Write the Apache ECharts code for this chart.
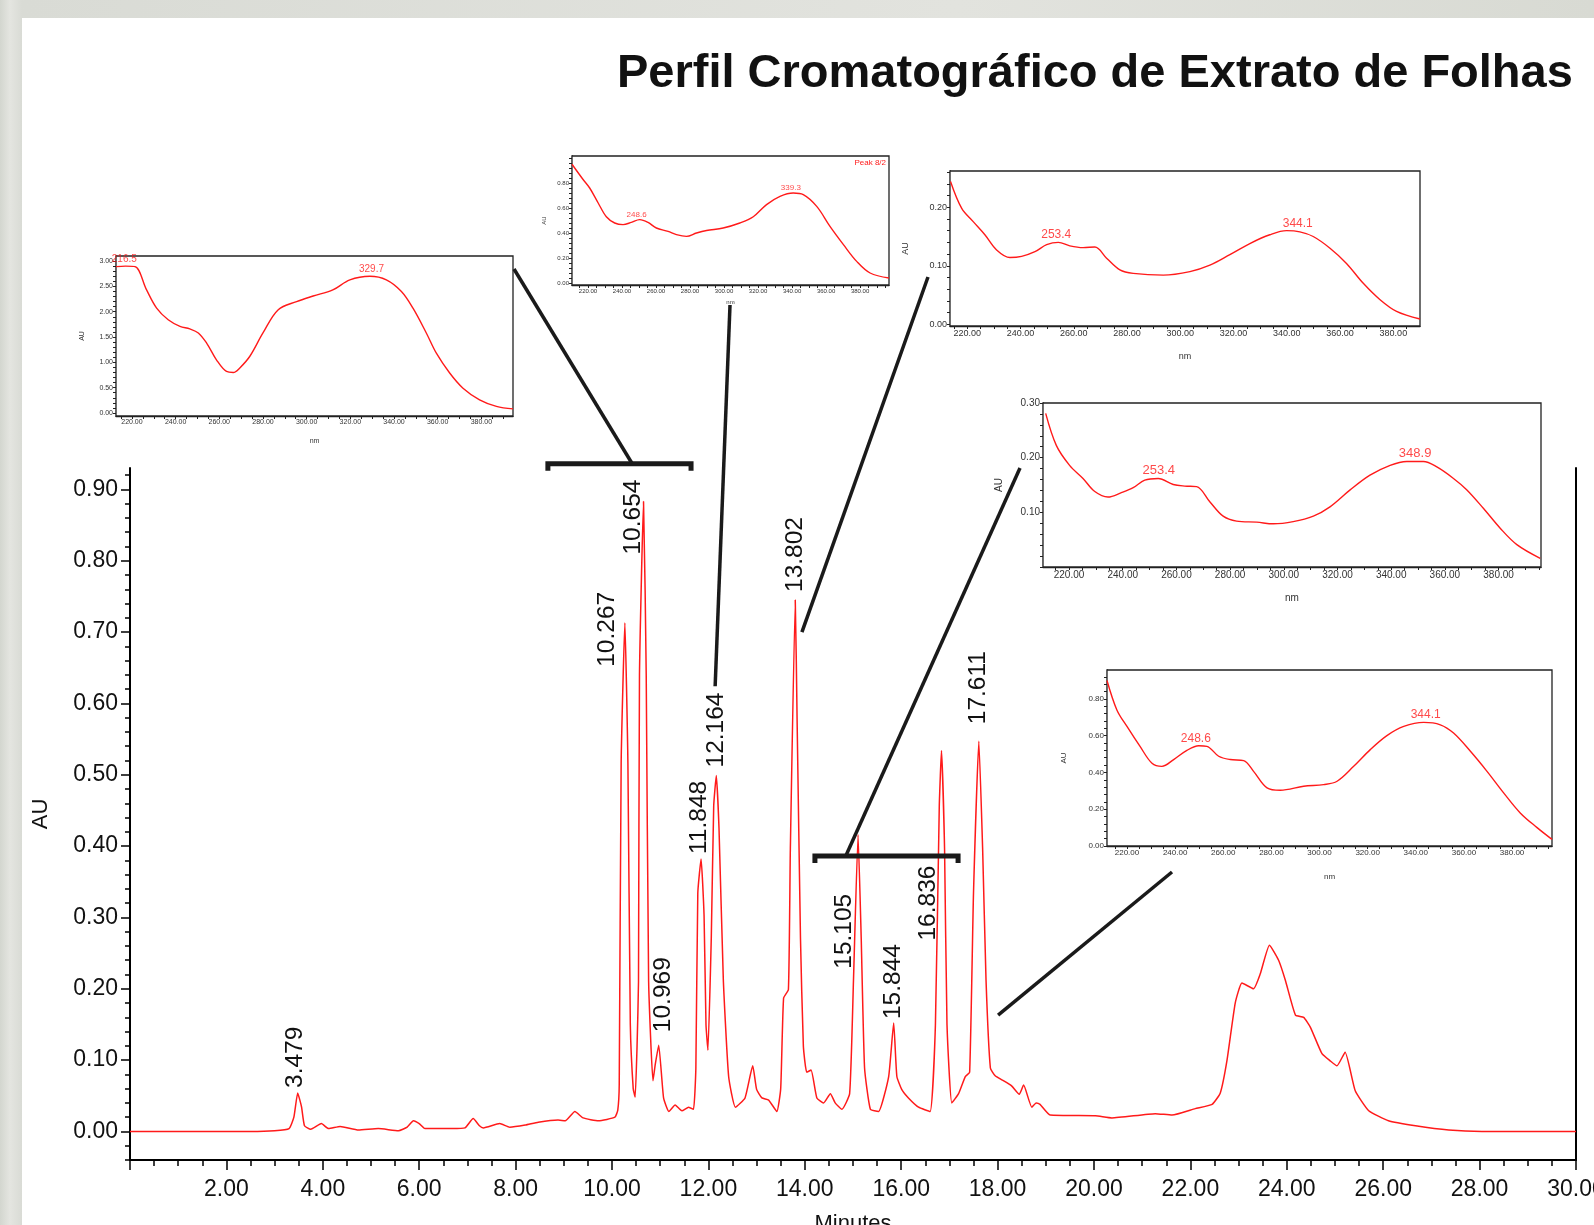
<!DOCTYPE html>
<html><head><meta charset="utf-8">
<script src="https://cdn.jsdelivr.net/npm/echarts/dist/echarts.min.js"></script>
<style>
html,body{margin:0;padding:0;}
body{width:1594px;height:1225px;overflow:hidden;position:relative;background:linear-gradient(90deg,#d3d6cf 0px,#e4e5e0 10px,#d9dbd5 22px,#e2e3de 60%,#d8dad3 100%);}
#card{position:absolute;left:22px;top:18px;right:0;bottom:0;background:#fff;}
#chart{position:absolute;left:0;top:0;width:1594px;height:1225px;}
</style>
</head><body>
<div id="card"></div>
<div id="chart"></div>
<script>
// ---------------- DATA ----------------
const chromTime = [0,2.5,3.0,3.3,3.4,3.479,3.52,3.56,3.62,3.75,3.97,4.12,4.36,4.74,5.15,5.57,5.75,5.88,6.0,6.12,6.68,6.95,7.12,7.25,7.33,7.67,7.88,8.2,8.47,8.88,9.03,9.23,9.4,9.72,10.06,10.12,10.15,10.19,10.267,10.33,10.38,10.44,10.48,10.52,10.55,10.57,10.654,10.71,10.76,10.85,10.9,10.969,11.07,11.18,11.31,11.45,11.59,11.69,11.74,11.78,11.848,11.91,11.95,11.99,12.06,12.11,12.164,12.22,12.31,12.42,12.56,12.76,12.92,13.0,13.11,13.25,13.42,13.5,13.56,13.66,13.7,13.802,13.84,13.91,13.97,14.04,14.13,14.25,14.39,14.53,14.63,14.77,14.93,15.01,15.105,15.17,15.24,15.36,15.53,15.74,15.844,15.91,16.01,16.15,16.36,16.6,16.71,16.79,16.836,16.9,16.95,17.05,17.19,17.33,17.42,17.5,17.611,17.69,17.76,17.85,17.95,18.1,18.29,18.45,18.54,18.71,18.8,18.88,19.09,20.03,20.37,21.27,21.62,22.1,22.45,22.62,22.76,22.93,23.07,23.31,23.45,23.64,23.83,23.97,24.18,24.35,24.49,24.73,24.9,25.04,25.21,25.42,25.7,26.11,26.67,27.36,28.05,30];
const chromAU = [0,0,0.001,0.004,0.02,0.054,0.045,0.034,0.008,0.003,0.011,0.004,0.007,0.002,0.004,0.001,0.006,0.015,0.011,0.004,0.004,0.005,0.018,0.008,0.005,0.011,0.006,0.009,0.013,0.016,0.015,0.028,0.019,0.015,0.02,0.03,0.065,0.517,0.713,0.517,0.15,0.06,0.048,0.12,0.21,0.64,0.883,0.64,0.21,0.071,0.095,0.121,0.047,0.028,0.037,0.029,0.034,0.031,0.089,0.334,0.382,0.303,0.15,0.114,0.272,0.456,0.499,0.425,0.212,0.077,0.034,0.047,0.092,0.059,0.047,0.044,0.028,0.06,0.187,0.199,0.395,0.745,0.578,0.272,0.12,0.083,0.086,0.047,0.04,0.053,0.04,0.031,0.053,0.212,0.416,0.272,0.089,0.031,0.028,0.077,0.152,0.077,0.059,0.047,0.034,0.028,0.15,0.456,0.534,0.395,0.15,0.04,0.053,0.077,0.083,0.334,0.547,0.395,0.212,0.089,0.078,0.072,0.064,0.052,0.065,0.034,0.04,0.038,0.023,0.022,0.019,0.025,0.023,0.032,0.038,0.054,0.1,0.18,0.208,0.2,0.221,0.261,0.24,0.212,0.163,0.16,0.146,0.109,0.099,0.092,0.111,0.057,0.029,0.015,0.008,0.002,0,0];

const peakRT = [3.479,10.267,10.654,10.969,11.848,12.164,13.802,15.105,15.844,16.836,17.611];

const xTickLabelsMain = [2,4,6,8,10,12,14,16,18,20,22,24,26,28,30];
const yTickLabelsMain = [0,0.1,0.2,0.3,0.4,0.5,0.6,0.7,0.8,0.9];

const spec1Nm = [212.7,217,221.4,226.7,231.3,236.6,242,246.5,250.4,254.2,258.7,263.3,266.4,269.4,274,280,287,295.4,303,312,319.8,329,336.5,343.4,348.7,354.8,359.4,365.5,371.6,379.2,386.9,394.5];
const spec1AU = [2.89,2.9,2.89,2.43,2.07,1.84,1.71,1.66,1.58,1.38,1.05,0.82,0.80,0.89,1.12,1.58,2.04,2.20,2.31,2.43,2.63,2.70,2.63,2.40,2.07,1.58,1.18,0.79,0.49,0.26,0.13,0.08];
const spec2Nm = [210.6,217,221,226,230.8,235.7,240.6,245.5,250.4,255.3,260.2,267.1,272,277.9,283.8,289.7,299.5,309.3,317.2,325,332.9,340.7,346.6,354.5,362.3,370.2,378,385.9,397];
const spec2AU = [0.95,0.83,0.76,0.64,0.53,0.48,0.467,0.485,0.507,0.485,0.44,0.413,0.387,0.373,0.40,0.42,0.44,0.48,0.53,0.627,0.693,0.72,0.707,0.613,0.453,0.307,0.173,0.08,0.04];
const spec3Nm = [213.7,217.9,222.3,226.6,231,236,240.4,245.4,249.8,254.2,258.5,263.5,267.9,272.3,277.3,282.3,293.6,303.6,311.1,318.6,326.1,333.6,339.9,344.9,349.9,356.2,362.4,368.7,375,381.2,390];
const spec3AU = [0.244,0.198,0.175,0.153,0.127,0.114,0.116,0.124,0.136,0.140,0.134,0.131,0.132,0.113,0.093,0.087,0.084,0.090,0.101,0.119,0.138,0.153,0.160,0.158,0.150,0.130,0.104,0.070,0.042,0.022,0.009];
const spec4Nm = [211.3,215.3,220.2,225.2,229.6,234.5,239.5,243.9,248.2,253.2,258.8,263.1,267.5,272.5,277.4,282.4,289.9,296.1,303.5,311,317.2,324.7,332.1,339.6,345.8,352,357,363.2,368.2,374.4,380.6,386.8,395.5];
const spec4AU = [0.281,0.222,0.186,0.162,0.138,0.128,0.136,0.145,0.159,0.162,0.151,0.148,0.147,0.119,0.093,0.084,0.082,0.079,0.083,0.093,0.110,0.141,0.168,0.186,0.193,0.193,0.183,0.162,0.141,0.107,0.071,0.041,0.016];
const spec5Nm = [211.7,215.8,220,225.5,230.4,234.5,239.4,244.9,249.8,253.2,258.1,262.9,268.5,272.6,278.2,283.7,293.4,301.7,307.3,314.2,321.1,328,335,343.3,350.2,355.7,362.7,369.6,376.5,383.4,390.4,396.6];
const spec5AU = [0.90,0.74,0.65,0.54,0.45,0.433,0.47,0.52,0.545,0.542,0.488,0.47,0.464,0.406,0.316,0.303,0.325,0.334,0.352,0.433,0.524,0.60,0.65,0.672,0.659,0.614,0.515,0.406,0.289,0.18,0.10,0.036];

const spec1Peaks = [216.5,329.7];
const spec2Peaks = [248.6,339.3];
const spec3Peaks = [253.4,344.1];
const spec4Peaks = [253.4,348.9];
const spec5Peaks = [248.6,344.1];

const nmTickLabels = [220,240,260,280,300,320,340,360,380];
const spec1YLabels = [0,0.5,1,1.5,2,2.5,3];
const spec2YLabels = [0,0.2,0.4,0.6,0.8];
const spec3YLabels = [0,0.1,0.2];
const spec4YLabels = [0.1,0.2,0.3];
const spec5YLabels = [0,0.2,0.4,0.6,0.8];

// ---------------- LAYOUT / STYLE ----------------
const FONT = '"Liberation Sans", Arial, Helvetica, sans-serif';
const RED = '#ff1a1a';
const INK = '#111';
function steps(a,b,s){const r=[];for(let i=0;a+i*s<=b+1e-9;i++) r.push(+(a+i*s).toFixed(5));return r;}
function zip(a,b){return a.map((v,i)=>[v,b[i]]);}
function interp(xs,ys,x){for(let i=1;i<xs.length;i++){if(x<=xs[i]){const f=(x-xs[i-1])/(xs[i]-xs[i-1]);return ys[i-1]+f*(ys[i]-ys[i-1]);}}return ys[ys.length-1];}

const insets = [
 {nm:spec1Nm, au:spec1AU, peaks:spec1Peaks, yLabels:spec1YLabels, left:116, top:256, width:397, height:160, xMin:212.7, xMax:394.5, yMin:-0.06, yMax:3.1, yTick:0.1, yTickMax:3.0, font:7, pfont:10, gapX:22, gapY:30},
 {nm:spec2Nm, au:spec2AU, peaks:spec2Peaks, yLabels:spec2YLabels, left:572, top:156, width:317, height:129, xMin:210.6, xMax:397, yMin:-0.016, yMax:1.016, yTick:0.04, yTickMax:1.0, font:6, pfont:8, gapX:14, gapY:25},
 {nm:spec3Nm, au:spec3AU, peaks:spec3Peaks, yLabels:spec3YLabels, left:950, top:171, width:470, height:155, xMin:213.5, xMax:390, yMin:-0.003, yMax:0.262, yTick:0.02, yTickMax:0.26, font:9, pfont:12, gapX:26, gapY:40},
 {nm:spec4Nm, au:spec4AU, peaks:spec4Peaks, yLabels:spec4YLabels, left:1043, top:403, width:498, height:164, xMin:210.3, xMax:395.8, yMin:0, yMax:0.30, yTick:0.02, yTickMax:0.30, font:10, pfont:13, gapX:26, gapY:39},
 {nm:spec5Nm, au:spec5AU, peaks:spec5Peaks, yLabels:spec5YLabels, left:1107, top:670, width:445, height:176, xMin:211.7, xMax:396.6, yMin:0, yMax:0.957, yTick:0.04, yTickMax:0.92, font:8, pfont:12, gapX:27, gapY:39}
];

const peakLabelOffset = [[-2,-5],[-18,44],[-10,53],[5,-13],[-2,-5],[0,-8],[0,-8],[-14,134],[0,-4],[-13,190],[-1,-17]];
const connectors = [
 {from:[514,269], to:[10.42,0.936]},
 {from:[730,305], to:[12.14,0.624]},
 {from:[928,277], to:[13.94,0.70]},
 {from:[1020,468], to:[14.85,0.386]},
 {from:[1172,872], to:[18.01,0.163]}
];
const brackets = [{t0:8.67,t1:11.64,v:0.936},{t0:14.21,t1:17.18,v:0.386}];

// ---------------- OPTION ----------------
const grids = [{left:130, top:468, right:18, bottom:65, show:false, containLabel:false, outerBoundsMode:'none'}];
const xAxes = [{
  type:'value', gridIndex:0, min:0, max:30, interval:2,
  axisLine:{show:true, onZero:false, lineStyle:{color:'#000', width:2}},
  axisTick:{show:true, length:10, lineStyle:{color:'#000', width:1.5}},
  minorTick:{show:true, splitNumber:4, length:6, lineStyle:{color:'#000', width:1.5}},
  splitLine:{show:false},
  axisLabel:{customValues:xTickLabelsMain, formatter:v=>v.toFixed(2), fontSize:23, color:INK, fontFamily:FONT, margin:18, hideOverlap:false},
  name:'Minutes', nameLocation:'middle', nameGap:53, nameTextStyle:{fontSize:22, color:INK, fontFamily:FONT}
}];
const yAxes = [
 {type:'value', gridIndex:0, min:-0.04, max:0.93, position:'left',
  axisLine:{show:true, onZero:false, lineStyle:{color:'#000', width:2}},
  axisTick:{show:true, customValues:yTickLabelsMain, length:9, lineStyle:{color:'#000', width:1.5}},
  splitLine:{show:false},
  axisLabel:{customValues:yTickLabelsMain, formatter:v=>v.toFixed(2), fontSize:23, color:INK, fontFamily:FONT, margin:12},
  name:'AU', nameLocation:'middle', nameGap:78, nameTextStyle:{fontSize:22, color:INK, fontFamily:FONT}},
 {type:'value', gridIndex:0, min:-0.04, max:0.93, position:'left',
  axisLine:{show:false}, axisLabel:{show:false}, splitLine:{show:false},
  axisTick:{show:true, customValues:steps(-0.04,0.92,0.02), length:5, lineStyle:{color:'#000', width:1.5}}},
 {type:'value', gridIndex:0, min:-0.04, max:0.93, position:'right',
  axisLine:{show:true, onZero:false, lineStyle:{color:'#000', width:2}},
  axisTick:{show:false}, axisLabel:{show:false}, splitLine:{show:false}}
];
const series = [{
  type:'line', xAxisIndex:0, yAxisIndex:0, data:zip(chromTime, chromAU),
  showSymbol:false, symbol:'none', smooth:0.15, lineStyle:{color:RED, width:1.5}, z:3
}];

insets.forEach((s,i)=>{
  const gi = i+1;
  grids.push({left:s.left, top:s.top, width:s.width, height:s.height, show:true, borderColor:'#222', borderWidth:1.3, backgroundColor:'#fff', z:1, containLabel:false, outerBoundsMode:'none'});
  xAxes.push({type:'value', gridIndex:gi, min:s.xMin, max:s.xMax,
    axisLine:{show:true, onZero:false, lineStyle:{color:'#222', width:1.3}},
    axisTick:{show:true, customValues:steps(215,395,5).filter(v=>v>s.xMin&&v<s.xMax), length:3, lineStyle:{color:'#222', width:1}},
    splitLine:{show:false},
    axisLabel:{customValues:nmTickLabels, formatter:v=>v.toFixed(2), fontSize:s.font, color:'#333', fontFamily:FONT, margin:3},
    name:'nm', nameLocation:'middle', nameGap:s.gapX, nameTextStyle:{fontSize:s.font, color:'#333', fontFamily:FONT}});
  yAxes.push({type:'value', gridIndex:gi, min:s.yMin, max:s.yMax, position:'left',
    axisLine:{show:true, onZero:false, lineStyle:{color:'#222', width:1.3}},
    axisTick:{show:true, customValues:steps(0,s.yTickMax,s.yTick), length:3, lineStyle:{color:'#222', width:1}},
    splitLine:{show:false},
    axisLabel:{customValues:s.yLabels, formatter:v=>v.toFixed(2), fontSize:s.font, color:'#333', fontFamily:FONT, margin:3},
    name:'AU', nameLocation:'middle', nameGap:s.gapY, nameTextStyle:{fontSize:s.font, color:'#333', fontFamily:FONT}});
  series.push({type:'line', xAxisIndex:gi, yAxisIndex:gi+2, data:zip(s.nm, s.au), showSymbol:false, symbol:'none', smooth:0.35, lineStyle:{color:RED, width:1.4}, z:3});
  series.push({type:'scatter', xAxisIndex:gi, yAxisIndex:gi+2, symbolSize:0.1, itemStyle:{color:'transparent'}, z:4,
    data:s.peaks.map(p=>[p, interp(s.nm, s.au, p)]),
    label:{show:true, position:'top', distance:2, formatter:p=>p.value[0].toFixed(1), fontSize:s.pfont, color:RED, fontFamily:FONT}});
});

const option = {
  animation:false,
  backgroundColor:'transparent',
  title:{text:'Perfil Cromatográfico de Extrato de Folhas', left:612, top:46, textStyle:{fontSize:47, fontWeight:'bold', color:INK, fontFamily:FONT}},
  grid:grids, xAxis:xAxes, yAxis:yAxes, series:series
};

const chart = echarts.init(document.getElementById('chart'), null, {renderer:'canvas'});
chart.setOption(option);

// ---------------- ANNOTATIONS (through the axes) ----------------
const toPx = (t,v)=>chart.convertToPixel({xAxisIndex:0, yAxisIndex:0},[t,v]);
const g = [];
peakRT.forEach((rt,i)=>{
  const au = interp(chromTime, chromAU, rt);
  const p = toPx(rt, au);
  const o = peakLabelOffset[i];
  g.push({type:'text', x:p[0]+o[0], y:p[1]+o[1], rotation:Math.PI/2, z:20,
    style:{text:rt.toFixed(3), fontSize:24.5, fontFamily:FONT, fill:INK, align:'left', verticalAlign:'middle', textAlign:'left', textVerticalAlign:'middle'}});
});
brackets.forEach(b=>{
  const a = toPx(b.t0,b.v), c = toPx(b.t1,b.v);
  g.push({type:'polyline', z:21, shape:{points:[[a[0],a[1]+7],[a[0],a[1]],[c[0],c[1]],[c[0],c[1]+7]]}, style:{stroke:'#1a1a1a', lineWidth:5, fill:null}});
});
connectors.forEach(c=>{
  const p = toPx(c.to[0], c.to[1]);
  g.push({type:'line', z:21, shape:{x1:c.from[0], y1:c.from[1], x2:p[0], y2:p[1]}, style:{stroke:'#1a1a1a', lineWidth:3.5}});
});
g.push({type:'text', x:insets[1].left+insets[1].width-3, y:insets[1].top+3, z:22,
  style:{text:'Peak 8/2', fontSize:8, fontFamily:FONT, fill:RED, align:'right', verticalAlign:'top', textAlign:'right', textVerticalAlign:'top'}});
chart.setOption({graphic:g});
</script>
</body></html>
